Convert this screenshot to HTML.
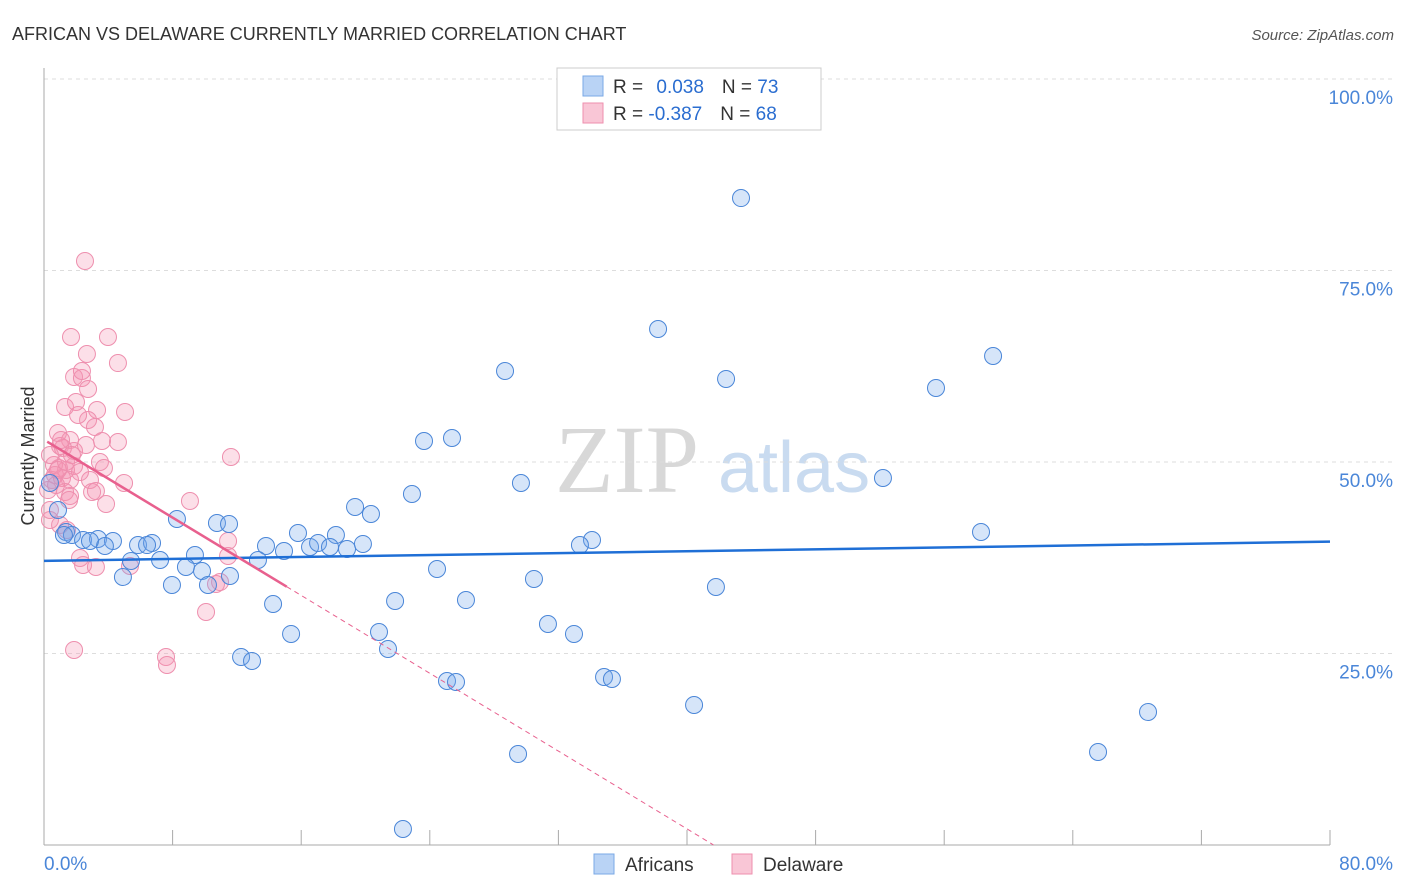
<!DOCTYPE html>
<html><head><meta charset="utf-8"><style>
body{margin:0;background:#fff;font-family:"Liberation Sans",sans-serif}
#c{position:absolute;left:0;top:0}
</style></head><body>
<svg id="c" width="1406" height="892">
<text x="12" y="40" font-size="18" fill="#333">AFRICAN VS DELAWARE CURRENTLY MARRIED CORRELATION CHART</text>
<text x="1394" y="40" font-size="15" fill="#555" font-style="italic" text-anchor="end">Source: ZipAtlas.com</text>
<text x="555" y="492" font-size="96" fill="#d8d8d8" font-family="Liberation Serif">ZIP</text>
<text x="718" y="492" font-size="72" fill="#c9dbf0">atlas</text>
<text transform="translate(34,456) rotate(-90)" font-size="18" fill="#333" text-anchor="middle">Currently Married</text>
<g id="grid"></g><g id="pts"></g><g id="lines"></g>
<g>
<rect x="557" y="68" width="264" height="62" fill="#fff" stroke="#ccc"/>
<rect x="583" y="76" width="20" height="20" fill="#b9d3f5" stroke="#7aa8e6"/>
<rect x="583" y="103" width="20" height="20" fill="#f9c6d6" stroke="#ee8fae"/>
<text x="613" y="93" font-size="19" fill="#333">R = <tspan fill="#2a6dd0" dx="8">0.038</tspan><tspan dx="18" fill="#333">N = </tspan><tspan fill="#2a6dd0">73</tspan></text>
<text x="613" y="120" font-size="19" fill="#333">R = <tspan fill="#2a6dd0">-0.387</tspan><tspan dx="18" fill="#333">N = </tspan><tspan fill="#2a6dd0">68</tspan></text>
</g>
<g>
<rect x="594" y="854" width="20" height="20" fill="#b9d3f5" stroke="#7aa8e6"/>
<text x="625" y="871" font-size="19" fill="#333">Africans</text>
<rect x="732" y="854" width="20" height="20" fill="#f9c6d6" stroke="#ee8fae"/>
<text x="763" y="871" font-size="19" fill="#333">Delaware</text>
</g>
</svg>
<script>
const xTicks=[0,80];
const yTicks=[25,50,75,100];
const bluePx=[[741,198],[658,329],[505,371],[726,379],[993,356],[936,388],[424,441],[452,438],[521,483],[883,478],[412,494],[355,507],[371,514],[177,519],[217,523],[229,524],[298,533],[336,535],[981,532],[592,540],[580,545],[66,532],[72,535],[83,540],[98,539],[113,541],[105,546],[138,545],[152,543],[147,545],[266,546],[284,551],[310,547],[318,543],[330,547],[347,549],[363,544],[160,560],[195,555],[186,567],[202,571],[230,576],[208,585],[172,585],[123,577],[258,560],[131,561],[437,569],[534,579],[716,587],[466,600],[395,601],[273,604],[548,624],[379,632],[574,634],[291,634],[388,649],[241,657],[252,661],[447,681],[456,682],[604,677],[612,679],[694,705],[1148,712],[518,754],[1098,752],[403,829],[50,483],[58,510],[90,541],[64,535]];
const pinkPx=[[85,261],[71,337],[108,337],[87,354],[118,363],[74,377],[82,378],[82,371],[88,389],[65,407],[76,402],[97,410],[125,412],[88,420],[78,415],[95,427],[58,433],[70,440],[60,446],[102,441],[118,442],[74,451],[63,448],[100,462],[104,468],[74,466],[66,470],[59,468],[55,475],[52,480],[62,478],[70,480],[54,465],[50,455],[90,480],[124,483],[65,492],[70,496],[92,492],[96,491],[106,504],[69,500],[231,457],[190,501],[50,520],[60,525],[67,530],[80,558],[83,565],[96,567],[130,566],[228,556],[220,582],[216,584],[206,612],[166,657],[167,665],[74,650],[50,510],[48,490],[228,541],[58,470],[66,462],[80,472],[56,485],[61,440],[72,455],[86,445]];
// data values (x %, y %)
const blueX=bluePx.map(p=>+((p[0]-44)/16.075).toFixed(2));
const blueY=bluePx.map(p=>+((845-p[1])/7.66).toFixed(2));
const pinkX=pinkPx.map(p=>+((p[0]-44)/16.075).toFixed(2));
const pinkY=pinkPx.map(p=>+((845-p[1])/7.66).toFixed(2));
const blueFit=[37.1,39.6];
const pinkFit=[52.9,-1.27];
const X=v=>44+v*16.075, Y=v=>845-v*7.66;
const NS="http://www.w3.org/2000/svg";
function mk(t,a,p){const e=document.createElementNS(NS,t);for(const k in a)e.setAttribute(k,a[k]);p.appendChild(e);return e;}
const g=document.getElementById('grid');
yTicks.forEach(v=>{const l=mk('line',{x1:44,x2:1394,y1:Y(v),y2:Y(v),stroke:'#ddd','stroke-dasharray':'4,4'},g);


const t=mk('text',{x:1393,y:Y(v)+25,'font-size':19,fill:'#4a86d8','text-anchor':'end'},g);t.textContent=v.toFixed(1)+'%';

});
mk('line',{x1:44,x2:44,y1:68,y2:845,stroke:'#aaa'},g);
mk('line',{x1:44,x2:1330,y1:845,y2:845,stroke:'#aaa'},g);
for(let i=0;i<=10;i++){mk('line',{x1:X(i*8),x2:X(i*8),y1:830,y2:845,stroke:'#aaa'},g);}
xTicks.forEach((v,i)=>{const t=mk('text',{x:i?1393:44,y:870,'font-size':19,fill:'#4a86d8','text-anchor':i?'end':'start'},g);t.textContent=v.toFixed(1)+'%';

});
const pg=document.getElementById('pts');
pinkX.forEach((x,i)=>{const c=mk('circle',{cx:X(x),cy:Y(pinkY[i]),r:8.5,fill:'rgba(244,150,180,0.3)',stroke:'#ee8fae','stroke-width':1},pg);

});
blueX.forEach((x,i)=>{const c=mk('circle',{cx:X(x),cy:Y(blueY[i]),r:8.5,fill:'rgba(120,170,235,0.3)',stroke:'#4a86d8','stroke-width':1},pg);

});
const lg=document.getElementById('lines');
let l=mk('line',{x1:X(0),y1:Y(blueFit[0]),x2:X(80),y2:Y(blueFit[1]),stroke:'#1f6fd6','stroke-width':2.5},lg);


const pf=x=>pinkFit[0]+pinkFit[1]*x, x0=-pinkFit[0]/pinkFit[1];
l=mk('line',{x1:X(0.2),y1:Y(pf(0.2)),x2:X(15.1),y2:Y(pf(15.1)),stroke:'#e8608e','stroke-width':2.5},lg);


l=mk('line',{x1:X(15.1),y1:Y(pf(15.1)),x2:X(x0),y2:Y(0),stroke:'#e8608e','stroke-width':1,'stroke-dasharray':'5,4'},lg);


</script>
</body></html>
